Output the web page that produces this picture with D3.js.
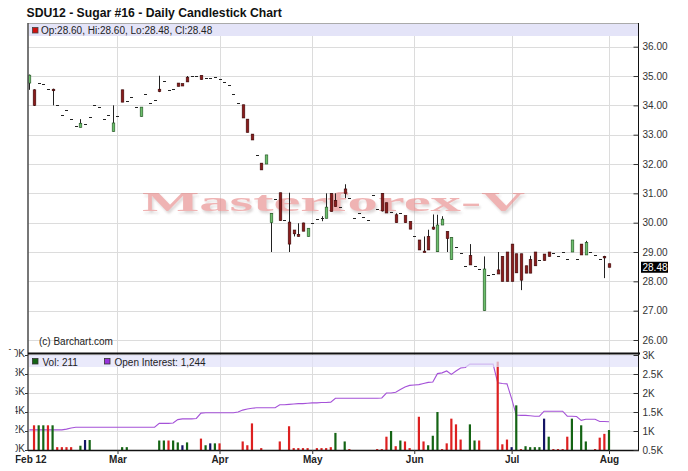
<!DOCTYPE html>
<html><head><meta charset="utf-8">
<script src="https://cdn.jsdelivr.net/npm/d3@7"></script>
<style>
body{margin:0;background:#fff}
svg{display:block}
text{font-family:"Liberation Sans",Arial,sans-serif}
</style>
</head><body>
<svg id="c" width="688" height="471"></svg>
<script>
// ---- DATA ----
const dates = [
"2012-02-02","2012-02-03","2012-02-06","2012-02-07","2012-02-08","2012-02-09","2012-02-10","2012-02-13","2012-02-14","2012-02-15",
"2012-02-16","2012-02-17","2012-02-21","2012-02-22","2012-02-23","2012-02-24","2012-02-27","2012-02-28","2012-02-29",
"2012-03-01","2012-03-02","2012-03-05","2012-03-06","2012-03-07","2012-03-08","2012-03-09","2012-03-12","2012-03-13","2012-03-14",
"2012-03-15","2012-03-16","2012-03-19","2012-03-20","2012-03-21","2012-03-22","2012-03-23","2012-03-26","2012-03-27","2012-03-28",
"2012-03-29","2012-03-30",
"2012-04-02","2012-04-03","2012-04-04","2012-04-05","2012-04-09","2012-04-10","2012-04-11","2012-04-12","2012-04-13","2012-04-16",
"2012-04-17","2012-04-18","2012-04-19","2012-04-20","2012-04-23","2012-04-24","2012-04-25","2012-04-26","2012-04-27","2012-04-30",
"2012-05-01","2012-05-02","2012-05-03","2012-05-04","2012-05-07","2012-05-08","2012-05-09","2012-05-10","2012-05-11","2012-05-14",
"2012-05-15","2012-05-16","2012-05-17","2012-05-18","2012-05-21","2012-05-22","2012-05-23","2012-05-24","2012-05-25","2012-05-29",
"2012-05-30","2012-05-31",
"2012-06-01","2012-06-04","2012-06-05","2012-06-06","2012-06-07","2012-06-08","2012-06-11","2012-06-12","2012-06-13","2012-06-14",
"2012-06-15","2012-06-18","2012-06-19","2012-06-20","2012-06-21","2012-06-22","2012-06-25","2012-06-26","2012-06-27","2012-06-28",
"2012-06-29",
"2012-07-02","2012-07-03","2012-07-05","2012-07-06","2012-07-09","2012-07-10","2012-07-11","2012-07-12","2012-07-13","2012-07-16",
"2012-07-17","2012-07-18","2012-07-19","2012-07-20","2012-07-23","2012-07-24","2012-07-25","2012-07-26","2012-07-27","2012-07-30",
"2012-07-31",
"2012-08-01"];

const open = [34.76,34.53,34.76,34.73,34.55,34.55,34.02,33.66,33.83,33.54,
33.31,33.25,33.36,33.59,34.00,33.94,33.54,33.66,33.11,33.65,
34.53,34.16,34.29,33.94,33.62,34.40,34.07,34.17,34.55,34.82,
34.51,34.55,34.76,34.74,34.96,35.01,35.01,35.02,34.92,34.92,
34.96,34.90,34.80,34.70,34.40,34.08,34.02,33.53,33.02,32.31,
32.03,32.00,30.00,30.81,31.02,30.10,30.02,29.75,29.60,29.99,
29.53,29.98,30.13,30.15,30.15,31.00,30.76,30.52,31.15,30.84,
30.15,30.32,30.18,30.08,30.93,30.46,31.00,30.68,30.35,30.27,
30.32,30.24,30.04,29.53,29.41,29.03,29.53,29.85,29.01,29.92,
29.70,28.74,29.18,28.98,28.53,28.88,28.53,28.41,27.00,28.22,
28.25,28.39,28.85,29.00,29.27,28.94,28.94,28.53,28.74,29.00,
28.73,28.93,29.00,28.96,28.87,29.00,28.77,29.00,28.77,29.27,
28.90,29.00,28.89,28.75,28.85,28.60];

const high = [35.05,34.55,34.76,34.73,34.55,34.57,34.02,33.66,33.83,33.54,
33.31,33.53,33.36,33.59,34.00,33.94,33.54,33.66,34.00,33.65,
34.53,34.16,34.29,33.94,33.94,34.40,34.07,34.17,35.01,34.82,
34.51,34.55,34.76,34.74,35.00,35.01,35.01,35.02,34.92,34.92,
34.96,34.90,34.80,34.70,34.40,34.08,34.02,33.53,33.02,32.31,
32.03,32.31,30.32,30.81,31.02,30.10,31.02,29.75,29.98,30.00,
29.81,29.98,30.13,30.22,31.00,31.00,31.00,30.52,31.31,30.84,
30.15,30.32,30.18,30.08,30.93,30.46,31.00,30.68,30.35,30.32,
30.32,30.24,30.04,29.53,29.41,29.53,29.76,30.28,30.27,30.22,
29.70,29.50,29.18,28.98,28.53,29.27,28.53,28.41,28.85,28.22,
28.25,29.00,28.85,29.00,29.27,28.94,28.94,28.53,28.87,29.00,
28.73,28.93,29.00,28.96,28.87,29.00,28.77,29.41,28.77,29.27,
29.38,29.00,28.89,28.75,28.87,28.60];

const low = [34.53,33.98,34.76,34.73,34.55,34.00,34.02,33.66,33.83,33.54,
33.31,33.25,33.36,33.59,34.00,33.94,33.54,33.66,33.11,33.65,
34.11,34.16,34.29,33.94,33.62,34.40,34.07,34.17,34.45,34.82,
34.51,34.55,34.65,34.66,34.80,35.01,35.01,34.88,34.92,34.92,
34.96,34.90,34.80,34.70,34.40,34.08,33.57,33.08,32.82,32.31,
31.80,32.00,29.00,30.81,30.07,30.10,29.00,29.53,29.53,29.71,
29.53,29.98,30.13,30.05,30.15,30.38,30.55,30.52,30.84,30.84,
30.15,30.32,30.18,30.08,30.93,30.46,30.38,30.33,30.35,30.00,
30.32,30.00,29.78,29.53,29.07,29.00,29.07,29.76,29.00,29.92,
29.00,28.74,29.18,28.98,28.53,28.56,28.53,28.41,27.00,28.22,
28.25,28.25,28.00,28.00,28.00,28.29,27.70,28.28,28.28,28.53,
28.73,28.71,28.85,28.96,28.87,29.00,28.77,29.00,28.77,28.90,
28.90,29.00,28.89,28.75,28.11,28.48];

const close = [35.03,34.00,34.76,34.73,34.55,34.52,34.02,33.66,33.83,33.54,
33.31,33.39,33.36,33.59,34.00,33.94,33.54,33.66,33.40,33.65,
34.11,34.16,34.29,33.94,33.94,34.40,34.07,34.17,34.47,34.82,
34.51,34.55,34.65,34.66,34.80,35.01,35.01,34.88,34.92,34.92,
34.96,34.90,34.80,34.70,34.40,34.08,33.57,33.08,32.82,32.31,
31.80,32.31,30.32,30.81,30.07,30.10,29.27,29.62,29.53,29.71,
29.81,29.98,30.13,30.15,30.53,30.38,30.55,30.52,31.00,30.84,
30.15,30.32,30.18,30.08,30.93,30.46,30.40,30.33,30.35,30.00,
30.32,30.00,29.78,29.53,29.07,29.00,29.07,29.78,29.92,30.12,
29.46,29.50,29.18,28.98,28.53,28.56,28.53,28.41,28.42,28.22,
28.25,28.25,28.00,28.00,28.00,28.29,28.04,28.28,28.28,28.53,
28.73,28.71,28.85,28.96,28.87,29.00,28.77,29.41,28.77,28.90,
29.33,29.00,28.89,28.75,28.83,28.48];

// volume in K (left scale), colour code per bar: r=down, g=up, b=unchanged, .=none
const volume = [0,2.6,2.6,2.6,2.6,2.6,0.3,0.3,0.3,0.3,
0,0.45,1.05,1.05,0,0,0,0,0,0,
0.3,0.3,0,0,0,0,0,0,1.0,1.0,
1.0,1.0,0.8,0.5,0.8,0,0,1.2,0.5,0.7,
0.7,0.7,0,0,0,0,0.9,0.5,2.8,0,
0.2,0,0,0,0.9,0,2.5,0.2,0.2,0.2,
0.2,0,0.2,0.2,0.2,0.3,1.8,0,0.9,0.1,
0,0,0,0,0,0.1,0.1,1.4,2.0,0.4,
1.0,0.9,0.2,0,3.5,0.9,0.5,1.5,4.0,0.1,
0.7,3.3,2.7,1.1,0,2.7,1.0,1.0,0,0,
0,9.3,0.6,1.1,0.3,4.7,0.1,0.4,0.3,0.3,
0.3,3.3,1.4,0.1,0.1,0.1,1.4,3.3,0,2.6,
0.9,0,0.1,1.3,1.7,2.1];
const volumeColor = (".rggrgrrrr"+".gbg......"+"gg......gg"+"rggbg..rgb"+"gr....rrr."+
"r...r.rrrr"+"r.rrrrg.gr"+".....rrrgr"+"grr.rrgggr"+"rrrr.ggr.."+
".rrrbgrggg"+"gbgrrrrg.g"+"g.rrrg").split("");

// open interest in K (right scale)
const openInterest = [1.03,1.03,1.03,1.03,1.03,1.03,1.03,1.03,1.05,1.08,
1.10,1.10,1.10,1.10,1.10,1.10,1.10,1.10,1.10,1.10,
1.10,1.10,1.10,1.10,1.10,1.10,1.10,1.10,1.20,1.20,
1.20,1.21,1.30,1.32,1.32,1.32,1.33,1.47,1.48,1.48,
1.48,1.48,1.48,1.48,1.48,1.50,1.55,1.58,1.60,1.61,
1.61,1.61,1.61,1.61,1.69,1.69,1.70,1.71,1.72,1.72,
1.73,1.74,1.74,1.75,1.75,1.76,1.86,1.86,1.86,1.86,
1.86,1.86,1.86,1.86,1.86,1.86,1.87,2.00,2.00,2.02,
2.09,2.16,2.20,2.21,2.22,2.25,2.28,2.29,2.51,2.53,
2.58,2.49,2.58,2.66,2.67,2.76,2.76,2.76,2.76,2.76,
2.76,2.27,2.25,2.24,1.85,1.42,1.41,1.41,1.40,1.39,
1.39,1.52,1.52,1.52,1.52,1.52,1.39,1.39,1.38,1.28,
1.31,1.31,1.31,1.25,1.25,1.244];

const priceTicks = [26,27,28,29,30,31,32,33,34,35,36];
const volTicks = [0,2,4,6,8,10];
const volTickLabels = ["0K","2K","4K","6K","8K","10K"];
const oiTicks = [0.5,1,1.5,2,2.5,3];
const oiTickLabels = ["0.5K","1K","1.5K","2K","2.5K","3K"];
const monthLabels = ["Mar","Apr","May","Jun","Jul","Aug"];
const firstLabel = "Feb 12";
const title = "SDU12 - Sugar #16 - Daily Candlestick Chart";
const legendPrice = "Op:28.60, Hi:28.60, Lo:28.48, Cl:28.48";
const lastPrice = 28.48;
const legendVol = "Vol: 211";
const legendOI = "Open Interest: 1,244";

// ---- CHART ----
const svg = d3.select("#c");
const L = 28, R = 638, mainTop = 24, mainBot = 353.5, volBot = 450;
const x = d3.scalePoint().domain(dates).range([29.4, 609]);
const y = d3.scaleLinear().domain([26, 36]).range([340, 46.7]);
const yv = d3.scaleLinear().domain([0, 10]).range([450, 355]);
const yo = d3.scaleLinear().domain([0.5, 3]).range([450, 355]);

const defs = svg.append("defs");
const f = defs.append("filter").attr("id","wmShadow").attr("x","-5%").attr("y","-30%").attr("width","110%").attr("height","170%");
f.append("feDropShadow").attr("dx",1.5).attr("dy",2.5).attr("stdDeviation",1.2)
  .attr("flood-color","#9a8a8a").attr("flood-opacity",0.55);

svg.append("rect").attr("width",688).attr("height",471).attr("fill","#fff");

// month starts (first trading day of each month after Feb)
const monthStarts = [];
dates.forEach((d,i)=>{ if(i>0 && d.slice(5,7)!==dates[i-1].slice(5,7)) monthStarts.push(d); });

const grid = svg.append("g").attr("stroke","#dcdcdc").attr("stroke-width",1);
priceTicks.forEach(t=>{
  const yy = Math.round(y(t))+0.5;
  grid.append("line").attr("x1",L).attr("x2",R).attr("y1",yy).attr("y2",yy);
});
volTicks.slice(1).forEach(t=>{
  const yy = Math.round(yv(t))+0.5;
  grid.append("line").attr("x1",L).attr("x2",R).attr("y1",yy).attr("y2",yy);
});
monthStarts.forEach(d=>{
  const xx = Math.round(x(d))+0.5;
  grid.append("line").attr("x1",xx).attr("x2",xx).attr("y1",mainTop).attr("y2",volBot);
});

// watermark (single text with soft shadow)
svg.append("text").attr("x",142).attr("y",211).text("Masterforex-V")
  .attr("textLength",383).attr("lengthAdjust","spacingAndGlyphs")
  .style("font-family","'Liberation Serif','DejaVu Serif',serif").style("font-weight","bold")
  .style("font-size","28px").attr("fill","#e68686").attr("opacity",0.62)
  .attr("filter","url(#wmShadow)");

// candles
const cg = svg.append("g");
dates.forEach((d,i)=>{
  const cx = Math.round(x(d))+0.5;
  const o=open[i], h=high[i], l=low[i], c=close[i];
  if (h>l) cg.append("line").attr("x1",cx).attr("x2",cx).attr("y1",y(h)).attr("y2",y(l))
      .attr("stroke","#222").attr("stroke-width",1);
  if (o===c) {
    const yy = Math.round(y(o))+0.5;
    cg.append("line").attr("x1",cx-1.5).attr("x2",cx+1.5).attr("y1",yy).attr("y2",yy)
      .attr("stroke","#222").attr("stroke-width",1);
  } else {
    const up = c>o;
    const top = y(Math.max(o,c)), hh = Math.max(1.5, Math.abs(y(o)-y(c)));
    cg.append("rect").attr("x",cx-1.3).attr("y",top).attr("width",2.6).attr("height",hh)
      .attr("fill", up ? "#6cbf6c" : "#8a1c1c")
      .attr("stroke", up ? "#1f4f1f" : "#3a0808").attr("stroke-width",0.6);
  }
});

// open interest line
svg.append("path").datum(openInterest)
  .attr("d", d3.line().x((v,i)=>x(dates[i])).y(v=>yo(v)))
  .attr("fill","none").attr("stroke","#a552d8").attr("stroke-width",1.1);

// volume bars
const colMap = {r:"#dd2020", g:"#146414", b:"#141464"};
const vg = svg.append("g");
dates.forEach((d,i)=>{
  if (!volume[i] || volumeColor[i]===".") return;
  const cx = x(d);
  vg.append("rect").attr("x",cx-1.1).attr("width",2.2)
    .attr("y",yv(volume[i])).attr("height",volBot-yv(volume[i]))
    .attr("fill",colMap[volumeColor[i]]);
});

// legend bands
svg.append("rect").attr("x",L+1).attr("y",mainTop).attr("width",R-L-1).attr("height",12)
  .attr("fill","#e4e4f8");
svg.append("rect").attr("x",L+1).attr("y",355).attr("width",R-L-1).attr("height",12)
  .attr("fill","#e2e2fa").attr("opacity",0.72);
svg.append("rect").attr("x",32.5).attr("y",27.5).attr("width",5.5).attr("height",5.5)
  .attr("fill","#d01010").attr("stroke","#444").attr("stroke-width",0.8);
svg.append("text").attr("x",41).attr("y",34).text(legendPrice)
  .style("font-size","10px").attr("fill","#222");
svg.append("rect").attr("x",32.5).attr("y",358.5).attr("width",5.5).attr("height",5.5)
  .attr("fill","#146414").attr("stroke","#333").attr("stroke-width",0.8);
svg.append("text").attr("x",42.5).attr("y",365.5).text(legendVol)
  .style("font-size","10px").attr("fill","#222");
svg.append("rect").attr("x",104.5).attr("y",358.5).attr("width",5.5).attr("height",5.5)
  .attr("fill","#9933dd").attr("stroke","#333").attr("stroke-width",0.8);
svg.append("text").attr("x",114.5).attr("y",365.5).text(legendOI)
  .style("font-size","10px").attr("fill","#222");

// copyright
svg.append("text").attr("x",39).attr("y",345).text("(c) Barchart.com")
  .style("font-size","10px").attr("fill","#222");

// frame lines
svg.append("line").attr("x1",L).attr("x2",R).attr("y1",23.5).attr("y2",23.5).attr("stroke","#aaa");
svg.append("line").attr("x1",L).attr("x2",L).attr("y1",23).attr("y2",volBot).attr("stroke","#555").attr("stroke-width",1.6);
svg.append("line").attr("x1",R+0.5).attr("x2",R+0.5).attr("y1",23).attr("y2",volBot).attr("stroke","#111");
svg.append("line").attr("x1",L).attr("x2",R+2).attr("y1",mainBot).attr("y2",mainBot).attr("stroke","#111").attr("stroke-width",2);
svg.append("line").attr("x1",L).attr("x2",R+1).attr("y1",volBot+0.5).attr("y2",volBot+0.5).attr("stroke","#111").attr("stroke-width",1.5);

// right price axis
const ax1 = svg.append("g").attr("transform",`translate(${R+0.5},0)`)
  .call(d3.axisRight(y).tickValues(priceTicks).tickFormat(d3.format(".2f"))
    .tickSizeInner(-5).tickSizeOuter(0).tickPadding(4));
ax1.select(".domain").remove();
ax1.selectAll("text").style("font-size","10px").attr("fill","#333").style("font-family","'Liberation Sans',Arial,sans-serif");
ax1.selectAll("line").attr("stroke","#333");

// last price marker
const lpY = y(lastPrice);
svg.append("rect").attr("x",641).attr("y",lpY-5.5).attr("width",27).attr("height",11).attr("fill","#000");
svg.append("text").attr("x",642.5).attr("y",lpY+3.6).text(lastPrice.toFixed(2))
  .style("font-size","10px").attr("fill","#fff");

// right OI axis
const ax2 = svg.append("g").attr("transform",`translate(${R+0.5},0)`)
  .call(d3.axisRight(yo).tickValues(oiTicks).tickFormat((d,i)=>oiTickLabels[i])
    .tickSizeInner(-5).tickSizeOuter(0).tickPadding(4));
ax2.select(".domain").remove();
ax2.selectAll("text").style("font-size","10px").attr("fill","#333").style("font-family","'Liberation Sans',Arial,sans-serif");
ax2.selectAll("line").attr("stroke","#333");

// left volume axis
const ax3 = svg.append("g").attr("transform",`translate(${L},0)`)
  .call(d3.axisLeft(yv).tickValues(volTicks).tickFormat((d,i)=>volTickLabels[i])
    .tickSizeInner(3).tickSizeOuter(0).tickPadding(0));
ax3.select(".domain").remove();
ax3.selectAll("text").style("font-size","10px").attr("fill","#333").attr("dy","0.12em")
  .style("font-family","'Liberation Sans',Arial,sans-serif");
ax3.selectAll("line").attr("stroke","#333");

// bottom month axis
const ax4 = svg.append("g").attr("transform",`translate(0,${volBot})`)
  .call(d3.axisBottom(x).tickValues(monthStarts).tickFormat((d,i)=>monthLabels[i])
    .tickSizeInner(4).tickSizeOuter(0).tickPadding(1.5));
ax4.select(".domain").remove();
ax4.selectAll("text").style("font-size","10px").style("font-weight","bold").attr("fill","#222")
  .style("font-family","'Liberation Sans',Arial,sans-serif");
ax4.selectAll("line").attr("stroke","#333");
svg.append("text").attr("x",15).attr("y",463).text(firstLabel)
  .style("font-size","10px").style("font-weight","bold").attr("fill","#222");

// left cut-off of the original picture
svg.append("rect").attr("x",0).attr("y",350).attr("width",15.5).attr("height",121).attr("fill","#fff");

// title
svg.append("text").attr("x",26.5).attr("y",17).text(title)
  .style("font-size","12.2px").style("font-weight","bold").attr("fill","#111");
</script>
</body></html>
